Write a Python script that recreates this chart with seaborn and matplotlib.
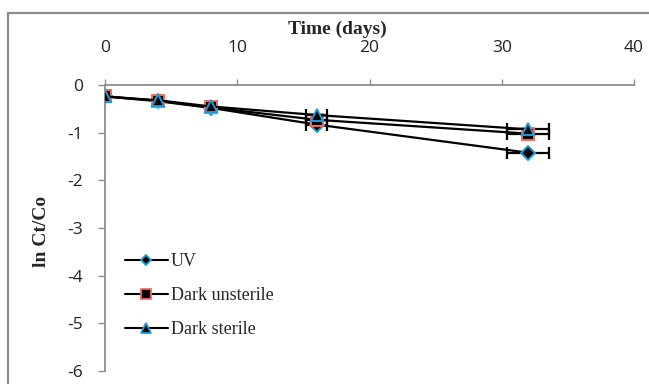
import matplotlib
matplotlib.use("Agg")
import matplotlib.pyplot as plt
import seaborn as sns
import pandas as pd
from matplotlib.patches import Rectangle
from matplotlib.lines import Line2D

days = [0, 4, 8, 16, 32]
uv = [-0.24, -0.34, -0.48, -0.83, -1.42]
dark_unsterile = [-0.24, -0.33, -0.47, -0.73, -1.02]
dark_sterile = [-0.24, -0.32, -0.45, -0.63, -0.93]
x_err = [0.0, 0.2, 0.4, 0.8, 1.6]
series_names = ["UV", "Dark unsterile", "Dark sterile"]
x_ticks = [0, 10, 20, 30, 40]
y_ticks = [0, -1, -2, -3, -4, -5, -6]

sns.set_theme(style="white")
plt.rcParams["axes.unicode_minus"] = False

rows = []
for name, vals in zip(series_names, [uv, dark_unsterile, dark_sterile]):
    for d, v, e in zip(days, vals, x_err):
        rows.append({"day": d, "val": v, "err": e, "series": name})
df = pd.DataFrame(rows)

W, H = 649, 384
fig = plt.figure(figsize=(W/100, H/100), dpi=100)
ax = fig.add_axes([105/W, 1-371/H, (634-105)/W, (371-85)/H])

# outer chart border
fig.patches.append(Rectangle((8/W, -0.1), 1.2, 1-13/H+0.1, transform=fig.transFigure,
                             fill=False, edgecolor="#8c8c8c", linewidth=1.6, zorder=0))

styles = {
    "UV": dict(marker="D", mec="#1d9bd7", ms=7),
    "Dark unsterile": dict(marker="s", mec="#f26b63", ms=8),
    "Dark sterile": dict(marker="^", mec="#1d9bd7", ms=9),
}

for name in series_names:
    sub = df[df["series"] == name]
    st = styles[name]
    ax.errorbar(sub["day"], sub["val"], xerr=sub["err"], fmt="none", ecolor="black",
                elinewidth=1.6, capsize=4.5, capthick=1.6, zorder=2)
    sns.lineplot(data=sub, x="day", y="val", ax=ax, color="black", linewidth=1.6,
                 marker=st["marker"], markersize=st["ms"], markerfacecolor="black",
                 markeredgecolor=st["mec"], markeredgewidth=1.4, zorder=3)

ax.set_xlim(0, 40)
ax.set_ylim(-6, 0)
ax.xaxis.tick_top()
ax.set_xticks(x_ticks)
ax.set_yticks(y_ticks)
ax.set_xticklabels([str(t) for t in x_ticks], fontfamily="Open Sans", fontsize=12.5, color="#222222")
ax.set_yticklabels([str(t) for t in y_ticks], fontfamily="Open Sans", fontsize=12.5, color="#222222")
ax.tick_params(axis="x", direction="out", length=4, color="#8c8c8c", width=1, pad=17, top=True, bottom=False)
ax.tick_params(axis="y", direction="out", length=5, color="#8c8c8c", width=1, pad=11, left=True)
for s in ["bottom", "right"]:
    ax.spines[s].set_visible(False)
for s in ["top", "left"]:
    ax.spines[s].set_color("#8c8c8c")
    ax.spines[s].set_linewidth(1.3)

ax.set_xlabel("")
ax.set_ylabel("")
fig.text(337/W, 1-29/H, "Time (days)", ha="center", va="center",
         fontfamily="Liberation Serif", fontweight="bold", fontsize=14)
fig.text(41/W, 1-231/H, "ln Ct/Co", ha="center", va="center", rotation=90,
         fontfamily="Liberation Serif", fontweight="bold", fontsize=14)

handles = [Line2D([0], [0], color="black", linewidth=1.5, marker=styles[n]["marker"],
                  markersize=styles[n]["ms"] - 1.5, markerfacecolor="black",
                  markeredgecolor=styles[n]["mec"], markeredgewidth=1.3) for n in series_names]
ax.legend(handles, series_names, loc="upper left", bbox_to_anchor=(0.025, 0.438), frameon=False,
          borderaxespad=0, prop={"family": "Liberation Serif", "size": 13}, handlelength=2.33,
          handletextpad=0.17, labelspacing=0.94)

fig.savefig("out.png", dpi=100)
